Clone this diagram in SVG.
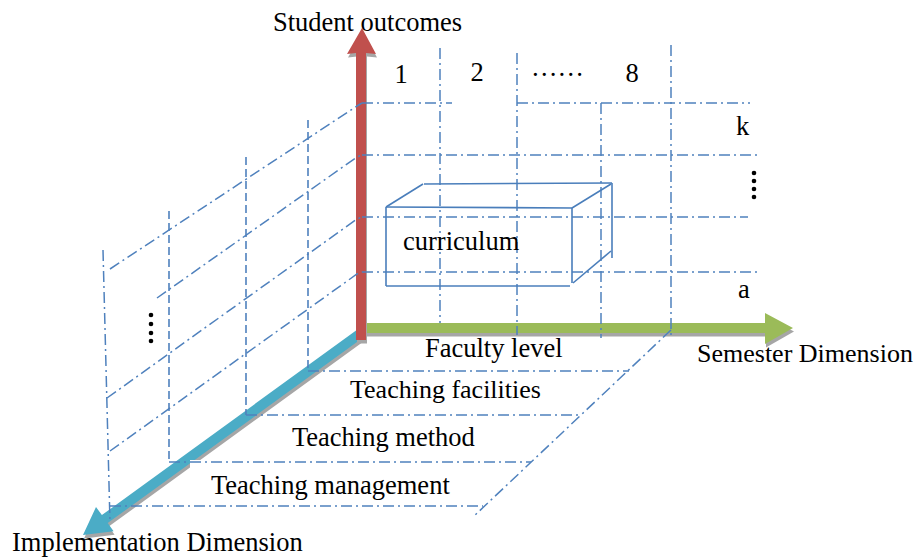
<svg xmlns="http://www.w3.org/2000/svg" width="917" height="557" viewBox="0 0 917 557">
<style>
text{font-family:"Liberation Serif","Times New Roman",serif;font-size:26.5px;fill:#000}
.dd{fill:none;stroke:#4f81bd;stroke-width:1.5;stroke-dasharray:11 4 2 4}
.da{fill:none;stroke:#4f81bd;stroke-width:1.6;stroke-dasharray:8 4}
.box{fill:none;stroke:#4a7ebb;stroke-width:1.6}
.sh{fill:#a6a6a6}
</style>
<rect width="917" height="557" fill="#fff"/>
<g id="axes">
  <g id="axis-implementation">
    <polygon class="sh" transform="translate(1,3.5)" points="363.9,337 358.1,329 101.9,515.1 96,507 83,535 113.6,531.2 107.7,523.1"/>
    <polygon fill="#4bacc6" points="363.9,337 358.1,329 101.9,515.1 96,507 83,535 113.6,531.2 107.7,523.1"/>
  </g>
  <g id="axis-semester">
    <polygon class="sh" transform="translate(1,3.5)" points="362,323 765,323 765,313 793,328 765,344 765,333 362,333"/>
    <polygon fill="#9bbb59" points="362,323 765,323 765,313 793,328 765,344 765,333 362,333"/>
  </g>
  <g id="axis-outcomes">
    <polygon class="sh" transform="translate(1,3.5)" points="356,340 356,53 347,54 362,28 376,54 366,53 366,340"/>
    <polygon fill="#c0504d" points="356,340 356,53 347,54 362,28 376,54 366,53 366,340"/>
  </g>
</g>
<rect x="190" y="460" width="280" height="44" fill="#fff"/>
<g id="connectors">
  <g id="left-wall">
    <line class="dd" x1="103" y1="250" x2="110" y2="523"/>
    <line class="da" x1="169" y1="211" x2="169" y2="462"/>
    <line class="da" x1="246" y1="157" x2="246" y2="415"/>
    <line class="da" x1="308" y1="120" x2="308" y2="371"/>
    <polyline class="dd" points="110,269 357,106 362,103"/>
    <polyline class="dd" points="157,298 357,157 362,155"/>
    <polyline class="dd" points="107,398 357,219 362,217"/>
    <polyline class="dd" points="110,451 357,274 362,272"/>
  </g>
  <g id="floor">
    <line class="dd" x1="308" y1="371" x2="629" y2="371"/>
    <line class="dd" x1="246" y1="415" x2="582" y2="415"/>
    <line class="dd" x1="169" y1="462" x2="531" y2="462"/>
    <line class="dd" x1="110" y1="506" x2="483" y2="506"/>
    <line class="dd" x1="671" y1="330" x2="473" y2="517"/>
  </g>
  <g id="back-wall">
    <line class="dd" x1="362" y1="103" x2="452" y2="103"/>
    <line class="dd" x1="517" y1="103" x2="750" y2="103"/>
    <line class="dd" x1="362" y1="155" x2="758" y2="155"/>
    <line class="dd" x1="362" y1="217" x2="748" y2="217"/>
    <line class="dd" x1="362" y1="272" x2="758" y2="272"/>
    <line class="dd" x1="440" y1="48" x2="440" y2="323"/>
    <line class="dd" x1="517" y1="53" x2="517" y2="335"/>
    <line class="dd" x1="601" y1="103" x2="601" y2="338"/>
    <line class="dd" x1="671" y1="45" x2="671" y2="338"/>
  </g>
</g>
<g id="curriculum">
  <polyline class="box" points="386,207 572,208 572,283"/>
  <line class="box" x1="386" y1="207" x2="386" y2="286"/>
  <line class="box" x1="386" y1="286" x2="570" y2="286"/>
  <line class="box" x1="386" y1="207" x2="423" y2="184"/>
  <line class="box" x1="424" y1="184" x2="612" y2="183"/>
  <line class="box" x1="572" y1="208" x2="611" y2="184"/>
  <line class="box" x1="612" y1="183" x2="612" y2="258"/>
  <line class="box" x1="573" y1="283" x2="611" y2="251"/>
  <text x="403" y="250">curriculum</text>
</g>
<g id="labels">
  <text x="273" y="31">Student outcomes</text>
  <text x="401" y="83" text-anchor="middle">1</text>
  <text x="477" y="81" text-anchor="middle">2</text>
  <text x="531" y="76">……</text>
  <text x="632" y="82" text-anchor="middle">8</text>
  <text x="736" y="135">k</text>
  <text x="738" y="298">a</text>
  <text x="425" y="357">Faculty level</text>
  <text x="350" y="398" style="font-size:26px">Teaching facilities</text>
  <text x="292" y="446">Teaching method</text>
  <text x="211" y="494">Teaching management</text>
  <text x="697" y="362" style="font-size:26px">Semester Dimension</text>
  <text x="12" y="551">Implementation Dimension</text>
</g>
<g id="ellipsis-marks" fill="#000">
  <circle cx="754" cy="173" r="2.3"/><circle cx="754" cy="181" r="2.3"/><circle cx="754" cy="189" r="2.3"/><circle cx="754" cy="197" r="2.3"/>
  <circle cx="151" cy="315" r="2.3"/><circle cx="151" cy="324" r="2.3"/><circle cx="151" cy="333" r="2.3"/><circle cx="151" cy="341" r="2.3"/>
</g>
</svg>
